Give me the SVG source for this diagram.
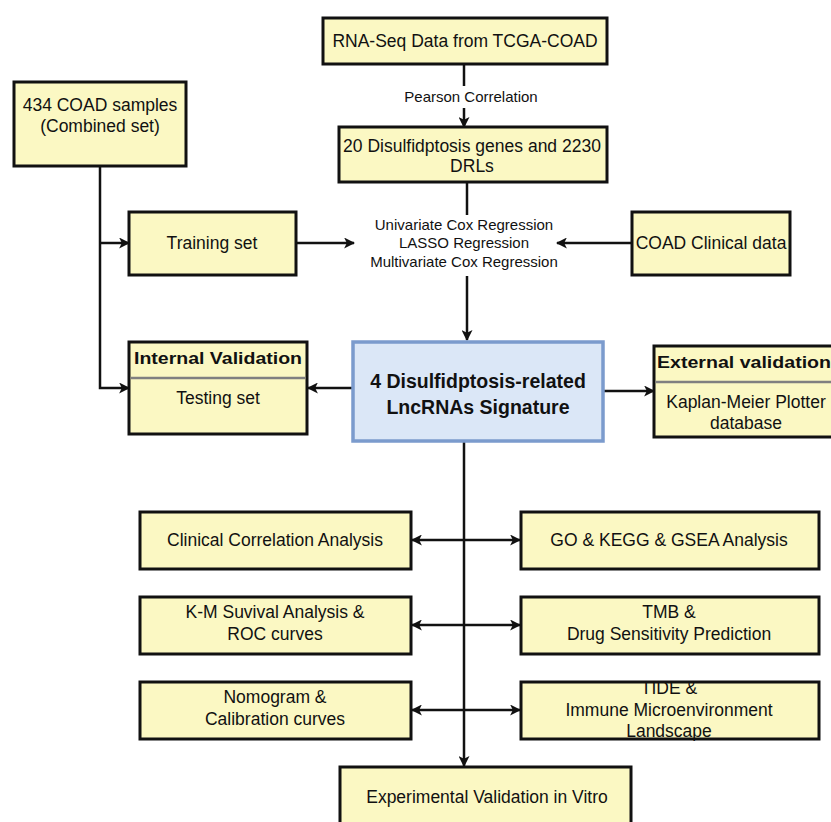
<svg xmlns="http://www.w3.org/2000/svg" width="831" height="822" viewBox="0 0 831 822">
<style>
.b{fill:#fbf8c3;stroke:#111;stroke-width:3}
.c{fill:#dbe7f7;stroke:#7b9bcd;stroke-width:3.5}
.h{stroke:#808080;stroke-width:2.5}
.t{font-family:"Liberation Sans",Arial,sans-serif;font-size:17.5px;fill:#111;text-anchor:middle}
.s{font-family:"Liberation Sans",Arial,sans-serif;font-size:15px;fill:#111;text-anchor:middle}
.bt{font-family:"Liberation Sans",Arial,sans-serif;font-weight:bold;fill:#111}
.l{fill:none;stroke:#111;stroke-width:2.5}
</style>
<defs>
<marker id="a" viewBox="0 0 10 10" refX="9" refY="5" markerWidth="4.4" markerHeight="4.4" orient="auto-start-reverse" markerUnits="strokeWidth">
<path d="M0,0 L10,5 L0,10 L2.5,5 z" fill="#111"/>
</marker>
</defs>
<rect width="831" height="822" fill="#fff"/>
<g id="connectors">
<line class="l" x1="464" y1="64" x2="464" y2="86"/>
<line class="l" x1="464" y1="108" x2="464" y2="127" marker-end="url(#a)"/>
<line class="l" x1="467" y1="182" x2="467" y2="215"/>
<line class="l" x1="467" y1="276" x2="467" y2="340" marker-end="url(#a)"/>
<polyline class="l" points="100,166 100,388 129,388" marker-end="url(#a)"/>
<line class="l" x1="100" y1="243" x2="129" y2="243" marker-end="url(#a)"/>
<line class="l" x1="296" y1="243" x2="354" y2="243" marker-end="url(#a)"/>
<line class="l" x1="632" y1="243" x2="557" y2="243" marker-end="url(#a)"/>
<line class="l" x1="353" y1="388" x2="308" y2="388" marker-end="url(#a)"/>
<line class="l" x1="603" y1="391" x2="654" y2="391" marker-end="url(#a)"/>
<line class="l" x1="464" y1="441" x2="464" y2="766" marker-end="url(#a)"/>
<line class="l" x1="412" y1="540" x2="520" y2="540" marker-start="url(#a)" marker-end="url(#a)"/>
<line class="l" x1="412" y1="625" x2="520" y2="625" marker-start="url(#a)" marker-end="url(#a)"/>
<line class="l" x1="412" y1="710" x2="520" y2="710" marker-start="url(#a)" marker-end="url(#a)"/>
</g>
<g id="rnaseq"><rect class="b" x="323" y="18" width="284" height="46"/><text class="t" x="465" y="47">RNA-Seq Data from TCGA-COAD</text></g>
<g id="pearson"><text class="s" x="471" y="102">Pearson Correlation</text></g>
<g id="genes"><rect class="b" x="339" y="127" width="268" height="55"/><text class="t" x="472" y="152">20 Disulfidptosis genes and 2230</text><text class="t" x="472" y="172">DRLs</text></g>
<g id="regression"><text class="s" x="464" y="230">Univariate Cox Regression</text><text class="s" x="464" y="248">LASSO Regression</text><text class="s" x="464" y="267">Multivariate Cox Regression</text></g>
<g id="combined"><rect class="b" x="14" y="82" width="172" height="84"/><text class="t" x="100" y="111">434 COAD samples</text><text class="t" x="100" y="132">(Combined set)</text></g>
<g id="training"><rect class="b" x="129" y="212" width="167" height="63"/><text class="t" x="212" y="249">Training set</text></g>
<g id="clinical-data"><rect class="b" x="632" y="212" width="158" height="63"/><text class="t" x="711" y="249">COAD Clinical data</text></g>
<g id="signature"><rect class="c" x="353" y="342" width="250" height="99"/><text class="bt" x="478" y="388" font-size="19.5" text-anchor="middle">4 Disulfidptosis-related</text><text class="bt" x="478" y="414" font-size="19.5" text-anchor="middle">LncRNAs Signature</text></g>
<g id="internal"><rect class="b" x="129" y="342" width="178" height="92"/><line class="h" x1="130.5" y1="378" x2="305.5" y2="378"/><text class="bt" x="218" y="364" font-size="17" text-anchor="middle" textLength="168" lengthAdjust="spacingAndGlyphs">Internal Validation</text><text class="t" x="218" y="404">Testing set</text></g>
<g id="external"><rect class="b" x="654" y="346" width="190" height="91"/><line class="h" x1="655.5" y1="382" x2="831" y2="382"/><text class="bt" x="657" y="368" font-size="17" textLength="174" lengthAdjust="spacingAndGlyphs">External validation</text><text class="t" x="746" y="408">Kaplan-Meier Plotter</text><text class="t" x="746" y="429">database</text></g>
<g id="clinical-corr"><rect class="b" x="140" y="512" width="271" height="57"/><text class="t" x="275" y="546">Clinical Correlation Analysis</text></g>
<g id="go-kegg"><rect class="b" x="521" y="512" width="298" height="57"/><text class="t" x="669" y="546">GO &amp; KEGG &amp; GSEA Analysis</text></g>
<g id="km"><rect class="b" x="140" y="597" width="271" height="57"/><text class="t" x="275" y="618">K-M Suvival Analysis &amp;</text><text class="t" x="275" y="640">ROC curves</text></g>
<g id="tmb"><rect class="b" x="521" y="597" width="298" height="57"/><text class="t" x="669" y="618">TMB &amp;</text><text class="t" x="669" y="640">Drug Sensitivity Prediction</text></g>
<g id="nomogram"><rect class="b" x="140" y="682" width="271" height="57"/><text class="t" x="275" y="703">Nomogram &amp;</text><text class="t" x="275" y="725">Calibration curves</text></g>
<g id="tide"><rect class="b" x="521" y="682" width="298" height="57"/><text class="t" x="669" y="694">TIDE &amp;</text><text class="t" x="669" y="716">Immune Microenvironment</text><text class="t" x="669" y="737">Landscape</text></g>
<g id="experimental"><rect class="b" x="340" y="767" width="291" height="62"/><text class="t" x="487" y="803">Experimental Validation in Vitro</text></g>
</svg>
